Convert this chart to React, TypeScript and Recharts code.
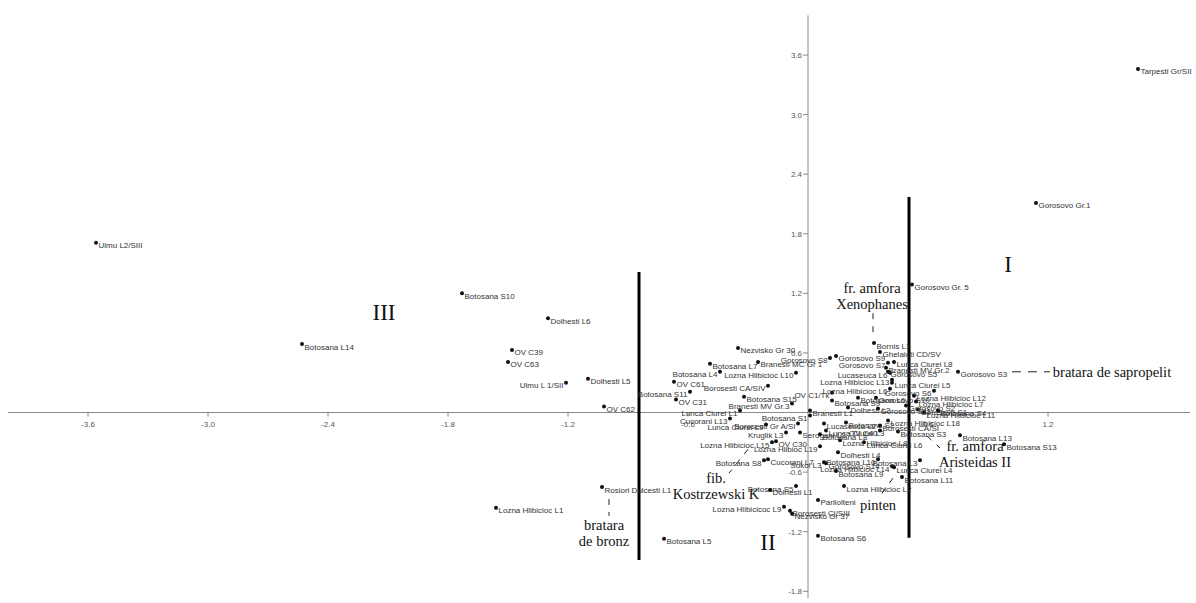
import React from 'react';
import { ScatterChart, Scatter, XAxis, YAxis, ReferenceLine } from 'recharts';

// sample labels and their scores on the two axes
const sampleNames = [
  'Ulmu L2/SIII', 'Botosana L14', 'Botosana S10', 'Dolhesti L6', 'OV C39', 'OV C63',
  'Ulmu L 1/SII', 'Dolhesti L5', 'OV C62', 'Rosiori Dulcesti L1', 'Lozna Hlibicioc L1', 'Botosana L5',
  'Tarpesti Gr/SII', 'Gorosovo Gr.1', 'Gorosovo Gr. 5', 'Gorosovo S3', 'Botosana L13', 'Botosana S13',
  'Nezvisko Gr 30', 'Botosana L7', 'Branesti MC Gr 1', 'Botosana L4', 'Lozna Hlibicioc L10', 'OV C61',
  'Borosesti CA/SIV', 'Botosana S11', 'Botosana S15', 'OV C31', 'Branesti MV Gr.3', 'Botosana S1',
  'Lunca Ciurei L1', 'Cucorani L13', 'Borosesti Gr A/SI', 'Lunca Ciurei L9', 'Kruglik L3', 'Lozna Hlibicioc L15',
  'OV C30', 'Botosana S8', 'Cucorani L7', 'Lozna Hlibioc L19', 'Sokol L3', 'Botosana S5',
  'Dolhesti L1', 'Lozna Hlibicicoc L9', 'Borosesti Cl/SIII', 'Nezvisko Gr 37', 'Botosana S6', 'Parliolteni',
  'Lozna Hlibicioc L2', 'Botosana L11', 'Lunca Ciurei L4', 'Lozna Hlibicioc L14', 'Gorosovo S14', 'Botosana L9',
  'Botosana L10', 'Dolhesti L4', 'Botosana L3', 'Lunca Ciurei L6', 'Botosana S3', 'Lozna Hlibicioc L8',
  'OV C40', 'Lucaseuca L2', 'Lunca Ciurei L3', 'Serogani L2', 'Botosana S2', 'Botosana L8',
  'Branesti L1', 'Dolhesti L2', 'Botosana S9', 'OV C1/Tk', 'Lozna Hlibicioc L6', 'Lozna Hlibicioc L13',
  'Lunca Ciurei L5', 'Lucaseuca L6', 'Gorosovo S5', 'Gorosovo S7', 'Lunca Ciurei L8', 'Branesti MV Gr.2',
  'Gorosovo S9', 'Gorosovo S8', 'Ghelaieti CD/SV', 'Bornis L1', 'Gorosovo S6', 'Lozna Hlibicioc L12',
  'Lozna Hlibicioc L7', 'Lozna Hlibicioc L18', 'Borosesti CA/SI', 'Lozna Hlibicioc L11', 'Gorosovo S1', 'Gorosovo S2',
  'Gorosovo S11', 'Botosana S4', 'Botosana L6', 'Gorosovo S10',
];

const axis1 = [
  -3.56, -2.53, -1.73, -1.3, -1.48, -1.5,
  -1.21, -1.1, -1.02, -1.03, -1.56, -0.72,
  1.65, 1.14, 0.52, 0.75, 0.76, 0.98,
  -0.35, -0.49, -0.25, -0.44, -0.06, -0.67,
  -0.2, -0.59, -0.32, -0.66, -0.08, 0.01,
  -0.34, -0.39, -0.05, -0.21, -0.11, -0.18,
  -0.16, -0.22, -0.2, 0.06, 0.08, -0.06,
  -0.19, -0.12, -0.09, -0.08, 0.05, 0.05,
  0.18, 0.47, 0.43, 0.42, 0.09, 0.14,
  0.35, 0.15, 0.56, 0.28, 0.45, 0.16,
  0.36, 0.08, 0.09, -0.04, 0.19, 0.06,
  0.01, 0.2, 0.12, 0.12, 0.41, 0.42,
  0.42, 0.41, 0.4, 0.4, 0.43, 0.39,
  0.14, 0.11, 0.36, 0.33, 0.63, 0.53,
  0.54, 0.4, 0.36, 0.58, 0.55, 0.49,
  0.35, 0.65, 0.25, 0.34,
];

const axis2 = [
  1.71, 0.69, 1.2, 0.95, 0.63, 0.51,
  0.3, 0.34, 0.06, -0.75, -0.96, -1.27,
  3.46, 2.11, 1.29, 0.41, -0.23, -0.32,
  0.65, 0.49, 0.51, 0.41, 0.4, 0.31,
  0.27, 0.21, 0.16, 0.13, 0.09, -0.03,
  0.02, -0.06, -0.11, -0.12, -0.2, -0.3,
  -0.29, -0.48, -0.47, -0.34, -0.5, -0.74,
  -0.78, -0.95, -0.99, -1.02, -1.24, -0.88,
  -0.74, -0.65, -0.55, -0.54, -0.51, -0.59,
  -0.47, -0.4, -0.48, -0.3, -0.19, -0.28,
  -0.18, -0.11, -0.18, -0.2, -0.1, -0.22,
  0.02, 0.05, 0.12, 0.2, 0.24, 0.33,
  0.3, 0.4, 0.41, 0.5, 0.51, 0.45,
  0.57, 0.55, 0.61, 0.7, 0.22, 0.17,
  0.11, -0.08, -0.13, 0.0, 0.03, 0.07,
  0.04, 0.02, 0.15, 0.15,
];

// samples whose label sits on the left of the dot
const leftLabeled = [
  'Ulmu L 1/SII', 'Botosana L4', 'Lozna Hlibicioc L10', 'Borosesti CA/SIV', 'Botosana S11',
  'Branesti MV Gr.3', 'Botosana S1', 'Lunca Ciurei L1', 'Cucorani L13', 'Borosesti Gr A/SI',
  'Lunca Ciurei L9', 'Kruglik L3', 'Lozna Hlibicioc L15', 'Botosana S8', 'Lozna Hlibioc L19',
  'Sokol L3', 'Botosana S5', 'Lozna Hlibicicoc L9', 'Lozna Hlibicioc L14', 'Botosana L10',
  'Botosana L3', 'OV C40', 'OV C1/Tk', 'Lozna Hlibicioc L6', 'Lozna Hlibicioc L13',
  'Lucaseuca L6', 'Gorosovo S7', 'Gorosovo S8', 'Gorosovo S6',
];

const xTicks = [-3.6, -3.0, -2.4, -1.8, -1.2, -0.6, 0.6, 1.2];
const yTicks = [3.6, 3.0, 2.4, 1.8, 1.2, 0.6, -0.6, -1.2, -1.8];

// group numerals
const groupLabels = ['I', 'II', 'III'];
const groupX = [1.0, -0.2, -2.12];
const groupY = [1.5, -1.3, 1.01];

// artefact captions
const captionLines = [
  ['fr. amfora', 'Xenophanes'],
  ['bratara de sapropelit'],
  ['fr. amfora', 'Aristeidas II'],
  ['pinten'],
  ['fib.', 'Kostrzewski K'],
  ['bratara', 'de bronz'],
];
const captionX = [0.32, 1.52, 0.835, 0.35, -0.46, -1.02];
const captionY = [1.25, 0.41, -0.337, -0.93, -0.66, -1.13];

// dashed leaders [x1, y1, x2, y2]
const leaders = [
  [0.325, 1.0, 0.325, 0.8],
  [1.02, 0.41, 1.21, 0.41],
  [0.595, -0.237, 0.66, -0.357],
  [0.425, -0.66, 0.36, -0.84],
  [-0.3, -0.37, -0.395, -0.61],
  [-0.995, -0.87, -0.995, -1.04],
];

// thick group dividers
const dividerX = [-0.845, 0.505];
const dividerTop = [1.415, 2.17];
const dividerBottom = [-1.485, -1.26];

const points = sampleNames.map((name, i) => ({ name, x: axis1[i], y: axis2[i] }));
const xTickData = xTicks.map((v) => ({ x: v, y: 0 }));
const yTickData = yTicks.map((v) => ({ x: 0, y: v }));
const groupData = groupLabels.map((label, i) => ({ label, x: groupX[i], y: groupY[i] }));
const captionData = captionLines.map((lines, i) => ({ lines, x: captionX[i], y: captionY[i] }));

const SANS = '"Liberation Sans", Arial, sans-serif';
const SERIF = '"Liberation Serif", "Times New Roman", serif';

const PointMark = (props: any) => {
  const { cx, cy, payload } = props;
  const left = leftLabeled.includes(payload.name);
  return (
    <g>
      <circle cx={cx} cy={cy} r={2} fill="#111" />
      <text
        x={left ? cx - 2.5 : cx + 2.5}
        y={cy + 5.5}
        textAnchor={left ? 'end' : 'start'}
        fontSize={8}
        fontFamily={SANS}
        fill="#333"
      >
        {payload.name}
      </text>
    </g>
  );
};

const XTickMark = (props: any) => {
  const { cx, cy, payload } = props;
  return (
    <g>
      <line x1={cx} y1={cy} x2={cx} y2={cy + 4} stroke="#888" />
      <text x={cx} y={cy + 14} textAnchor="middle" fontSize={8} fontFamily={SANS} fill="#555">
        {payload.x.toFixed(1)}
      </text>
    </g>
  );
};

const YTickMark = (props: any) => {
  const { cx, cy, payload } = props;
  return (
    <g>
      <line x1={cx - 5} y1={cy} x2={cx} y2={cy} stroke="#888" />
      <text x={cx - 6} y={cy + 3} textAnchor="end" fontSize={8} fontFamily={SANS} fill="#555">
        {payload.y.toFixed(1)}
      </text>
    </g>
  );
};

const GroupMark = (props: any) => {
  const { cx, cy, payload } = props;
  return (
    <text x={cx} y={cy + 8} textAnchor="middle" fontSize={23} fontFamily={SERIF} fill="#111">
      {payload.label}
    </text>
  );
};

const CaptionMark = (props: any) => {
  const { cx, cy, payload } = props;
  return (
    <text x={cx} y={cy + 5} textAnchor="middle" fontSize={14.5} fontFamily={SERIF} fill="#111">
      {payload.lines.map((line: string, i: number) => (
        <tspan key={i} x={cx} dy={i === 0 ? 0 : 16}>
          {line}
        </tspan>
      ))}
    </text>
  );
};

export default function App() {
  return (
    <div style={{ position: 'absolute', left: 0, top: 0, width: 1196, height: 603, background: '#fff' }}>
      <ScatterChart width={1196} height={603} margin={{ top: 0, right: 0, bottom: 0, left: 0 }}>
        <XAxis type="number" dataKey="x" domain={[-4.04, 1.94]} allowDataOverflow hide />
        <YAxis type="number" dataKey="y" domain={[-1.918, 4.154]} allowDataOverflow hide />

        {/* axes through the origin */}
        <ReferenceLine segment={[{ x: -4.0, y: 0 }, { x: 1.91, y: 0 }]} stroke="#8a8a8a" strokeWidth={1} />
        <ReferenceLine segment={[{ x: 0, y: 4.0 }, { x: 0, y: -1.87 }]} stroke="#8a8a8a" strokeWidth={1} />

        {dividerX.map((x, i) => (
          <ReferenceLine
            key={`div-${i}`}
            segment={[{ x, y: dividerTop[i] }, { x, y: dividerBottom[i] }]}
            stroke="#000"
            strokeWidth={3}
          />
        ))}

        {leaders.map((s, i) => (
          <ReferenceLine
            key={`lead-${i}`}
            segment={[{ x: s[0], y: s[1] }, { x: s[2], y: s[3] }]}
            stroke="#222"
            strokeWidth={1}
            strokeDasharray={i === 1 ? '9 7' : '6 7'}
          />
        ))}

        <Scatter data={xTickData} shape={(p: any) => <XTickMark {...p} />} isAnimationActive={false} />
        <Scatter data={yTickData} shape={(p: any) => <YTickMark {...p} />} isAnimationActive={false} />
        <Scatter data={groupData} shape={(p: any) => <GroupMark {...p} />} isAnimationActive={false} />
        <Scatter data={captionData} shape={(p: any) => <CaptionMark {...p} />} isAnimationActive={false} />
        <Scatter data={points} shape={(p: any) => <PointMark {...p} />} isAnimationActive={false} />
      </ScatterChart>
    </div>
  );
}
